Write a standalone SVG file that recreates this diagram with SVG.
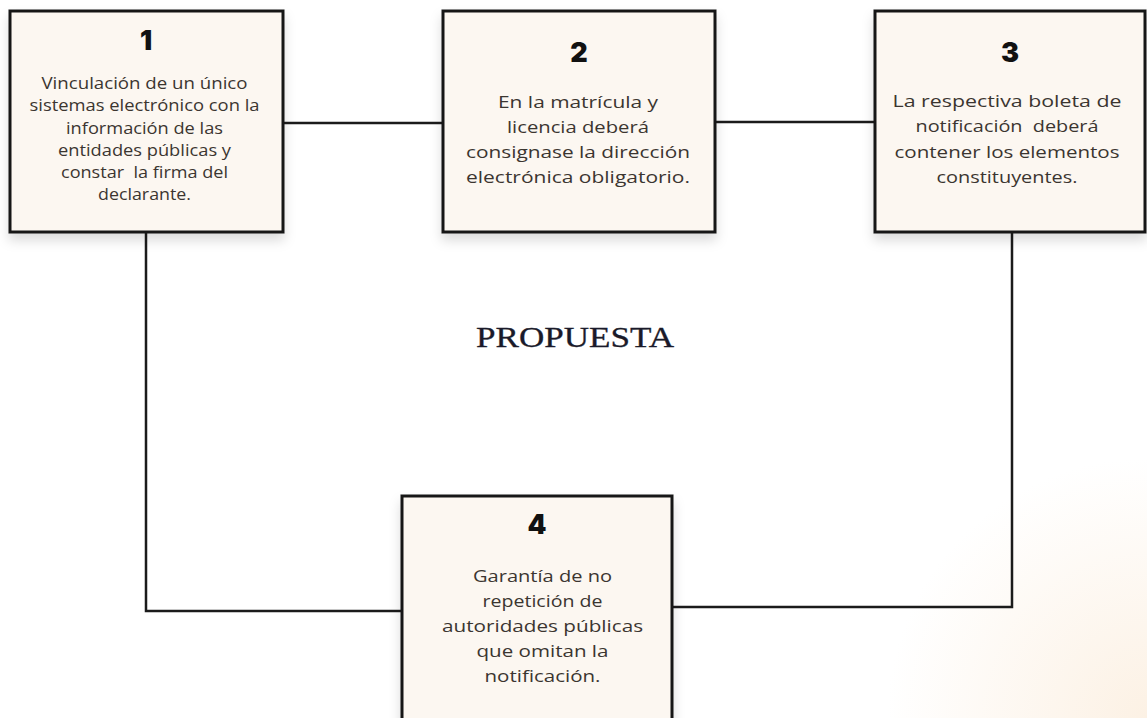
<svg xmlns="http://www.w3.org/2000/svg" width="1147" height="718" viewBox="0 0 1147 718">
<defs>
<radialGradient id="bg" cx="1147" cy="718" r="260" gradientUnits="userSpaceOnUse">
<stop offset="0" stop-color="#fcf1e4"/>
<stop offset="1" stop-color="#ffffff"/>
</radialGradient>
<filter id="sh" x="-20%" y="-20%" width="140%" height="150%">
<feDropShadow dx="0" dy="7" stdDeviation="6" flood-color="#000" flood-opacity="0.14"/>
</filter>
<style>
.box{fill:#fcf7f1;stroke:#161616;stroke-width:3;filter:url(#sh)}
.num{font-family:Inter,"DejaVu Sans",sans-serif;font-weight:900;font-size:27px;fill:#111;text-anchor:middle}
.t{font-family:"Open Sans","Noto Sans",sans-serif;font-size:17px;font-weight:500;fill:#3b3530;text-anchor:middle}
.c{fill:none;stroke:#1b1b1b;stroke-width:2.5}
.title{font-family:"Liberation Serif","DejaVu Serif",serif;font-size:29px;fill:#1a1a2a;text-anchor:middle;stroke:#1a1a2a;stroke-width:0.3}
</style>
</defs>
<rect width="1147" height="718" fill="url(#bg)"/>
<g id="connectors">
<line class="c" x1="283" y1="123" x2="443" y2="123"/>
<line class="c" x1="715" y1="122" x2="875" y2="122"/>
<path class="c" d="M146,232 V611 H402"/>
<path class="c" d="M1012,232 V607 H672"/>
</g>
<g id="node1">
<rect class="box" x="10" y="11" width="273" height="221"/>
<text class="num" x="146" y="50">1</text>
<text class="t" x="144.5" y="89" textLength="206" lengthAdjust="spacingAndGlyphs">Vinculación de un único</text>
<text class="t" x="144.5" y="111" textLength="230" lengthAdjust="spacingAndGlyphs">sistemas electrónico con la</text>
<text class="t" x="144.5" y="134" textLength="157" lengthAdjust="spacingAndGlyphs">información de las</text>
<text class="t" x="144.5" y="156" textLength="173" lengthAdjust="spacingAndGlyphs">entidades públicas y</text>
<text class="t" x="144.5" y="178" textLength="167" lengthAdjust="spacingAndGlyphs" xml:space="preserve">constar  la firma del</text>
<text class="t" x="144.5" y="200" textLength="93" lengthAdjust="spacingAndGlyphs">declarante.</text>
</g>
<g id="node2">
<rect class="box" x="443" y="11" width="272" height="221"/>
<text class="num" x="579" y="62">2</text>
<text class="t" x="578" y="108" textLength="160" lengthAdjust="spacingAndGlyphs">En la matrícula y</text>
<text class="t" x="578" y="133" textLength="142" lengthAdjust="spacingAndGlyphs">licencia deberá</text>
<text class="t" x="578" y="158" textLength="224" lengthAdjust="spacingAndGlyphs">consignase la dirección</text>
<text class="t" x="578" y="183" textLength="224" lengthAdjust="spacingAndGlyphs">electrónica obligatorio.</text>
</g>
<g id="node3">
<rect class="box" x="875" y="11" width="270" height="221"/>
<text class="num" x="1010" y="62">3</text>
<text class="t" x="1007" y="107" textLength="229" lengthAdjust="spacingAndGlyphs">La respectiva boleta de</text>
<text class="t" x="1007" y="132" textLength="183" lengthAdjust="spacingAndGlyphs" xml:space="preserve">notificación  deberá</text>
<text class="t" x="1007" y="158" textLength="225" lengthAdjust="spacingAndGlyphs">contener los elementos</text>
<text class="t" x="1007" y="183" textLength="141" lengthAdjust="spacingAndGlyphs">constituyentes.</text>
</g>
<g id="node4">
<rect class="box" x="402" y="496" width="270" height="240"/>
<text class="num" x="537" y="534">4</text>
<text class="t" x="542.5" y="582" textLength="139" lengthAdjust="spacingAndGlyphs">Garantía de no</text>
<text class="t" x="542.5" y="607" textLength="120" lengthAdjust="spacingAndGlyphs">repetición de</text>
<text class="t" x="542.5" y="632" textLength="201" lengthAdjust="spacingAndGlyphs">autoridades públicas</text>
<text class="t" x="542.5" y="657" textLength="132" lengthAdjust="spacingAndGlyphs">que omitan la</text>
<text class="t" x="542.5" y="682" textLength="116" lengthAdjust="spacingAndGlyphs">notificación.</text>
</g>
<text class="title" x="575" y="347" textLength="198" lengthAdjust="spacingAndGlyphs">PROPUESTA</text>
</svg>
